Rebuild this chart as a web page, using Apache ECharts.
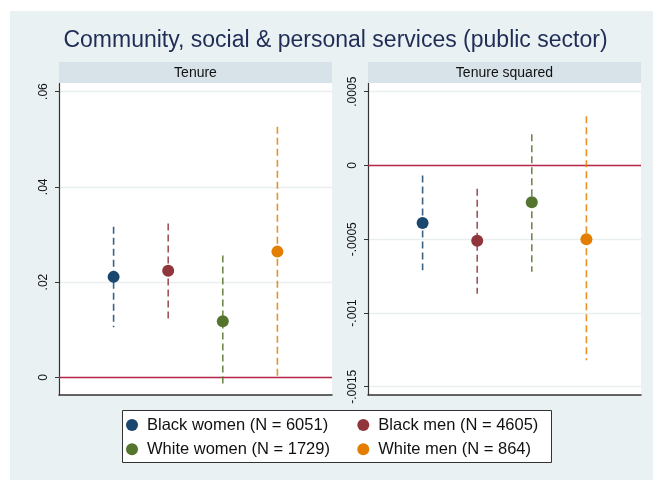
<!DOCTYPE html>
<html>
<head>
<meta charset="utf-8">
<script src="https://cdn.jsdelivr.net/npm/echarts@6/dist/echarts.min.js"></script>
<style>
html,body{margin:0;padding:0;background:#ffffff;}
#wrap{position:relative;width:653px;height:480px;}
#bg{position:absolute;left:10px;top:11px;width:643px;height:469px;background:#eaf1f3;}
#chart{position:absolute;left:0;top:0;width:653px;height:480px;}
</style>
</head>
<body>
<div id="wrap"><div id="bg"></div><div id="chart"></div></div>
<script>
// ---- data ----
const groups = ['Black women (N = 6051)', 'Black men (N = 4605)', 'White women (N = 1729)', 'White men (N = 864)'];
const groupX = [1, 2, 3, 4];
const tenureCoef = [0.0211, 0.0224, 0.0118, 0.0264];
const tenureLo   = [0.0105, 0.0123, -0.0020, 0.0003];
const tenureHi   = [0.0316, 0.0323, 0.0256, 0.0526];
const sqCoef = [-0.00039, -0.00051, -0.00025, -0.00050];
const sqLo   = [-0.00071, -0.00087, -0.00072, -0.00132];
const sqHi   = [-0.000068, -0.000158, 0.000212, 0.000334];
const tenureTicks = [0, 0.02, 0.04, 0.06];
const tenureTickLabels = ['0', '.02', '.04', '.06'];
const sqTicks = [-0.0015, -0.001, -0.0005, 0, 0.0005];
const sqTickLabels = ['-.0015', '-.001', '-.0005', '0', '.0005'];
const panelTitles = ['Tenure', 'Tenure squared'];
const chartTitle = 'Community, social & personal services (public sector)';

// ---- styles ----
const colors = ['#1a476f', '#90353b', '#55752f', '#e37e00'];
const FONT = '"Liberation Sans", Arial, Helvetica, sans-serif';

function labelFor(ticks, labels) {
  return function (v) {
    for (let i = 0; i < ticks.length; i++) {
      if (Math.abs(ticks[i] - v) < 1e-12) return labels[i];
    }
    return '';
  };
}

function yAxisCfg(gi, min, max, ticks, labels) {
  return {
    gridIndex: gi, type: 'value', min: min, max: max,
    axisLine: { show: true, lineStyle: { color: '#333', width: 1.2 } },
    axisTick: { show: true, length: 4, customValues: ticks, lineStyle: { color: '#333', width: 1 } },
    axisLabel: { customValues: ticks, rotate: 90, margin: 9, fontSize: 12, color: '#111', fontFamily: FONT,
      formatter: labelFor(ticks, labels) },
    splitLine: { show: true, lineStyle: { color: '#e9eff0', width: 1.3 } }
  };
}
function xAxisCfg(gi) {
  return {
    gridIndex: gi, type: 'value', min: 0, max: 5,
    axisLine: { show: true, onZero: false, lineStyle: { color: '#333', width: 1.5 } },
    axisTick: { show: false }, axisLabel: { show: false }, splitLine: { show: false }
  };
}

const series = [];
const panels = [
  { coef: tenureCoef, lo: tenureLo, hi: tenureHi },
  { coef: sqCoef, lo: sqLo, hi: sqHi }
];
panels.forEach(function (p, gi) {
  for (let i = 0; i < groups.length; i++) {
    series.push({
      name: 'ci' + gi + '_' + i, type: 'line', xAxisIndex: gi, yAxisIndex: gi,
      data: [[groupX[i], p.hi[i]], [groupX[i], p.lo[i]]],
      showSymbol: false, symbol: 'none', silent: true, z: 3,
      lineStyle: { color: colors[i], width: 1.6, type: [7, 4], opacity: 0.85 }
    });
  }
  for (let i = 0; i < groups.length; i++) {
    const s = {
      name: groups[i], type: 'scatter', xAxisIndex: gi, yAxisIndex: gi,
      data: [[groupX[i], p.coef[i]]], symbol: 'circle', symbolSize: 12, z: 5,
      itemStyle: { color: colors[i], opacity: 1 }
    };
    if (i === 0) {
      s.markLine = {
        silent: true, symbol: 'none', label: { show: false }, z: 2,
        data: [{ yAxis: 0 }],
        lineStyle: { color: '#b8264a', width: 1.3, type: 'solid' }
      };
    }
    series.push(s);
  }
});

const legendBase = {
  orient: 'vertical', padding: 0, itemWidth: 12, itemHeight: 12, itemGap: 6.3,
  icon: 'circle',
  textStyle: { fontSize: 16.5, color: '#111', fontFamily: FONT, lineHeight: 18, padding: [0, 0, 0, 4] },
  selectedMode: false
};

const option = {
  backgroundColor: 'transparent',
  animation: false,
  grid: [
    { left: 59, top: 83, right: 321, bottom: 85, show: true, backgroundColor: '#ffffff', borderWidth: 0 },
    { left: 368, top: 83, right: 12, bottom: 85, show: true, backgroundColor: '#ffffff', borderWidth: 0 }
  ],
  xAxis: [xAxisCfg(0), xAxisCfg(1)],
  yAxis: [
    yAxisCfg(0, -0.0037, 0.0618, tenureTicks, tenureTickLabels),
    yAxisCfg(1, -0.001556, 0.000559, sqTicks, sqTickLabels)
  ],
  legend: [
    Object.assign({}, legendBase, { left: 126, top: 416, data: [groups[0], groups[2]] }),
    Object.assign({}, legendBase, { left: 357.3, top: 416, data: [groups[1], groups[3]] })
  ],
  graphic: [
    { type: 'rect', shape: { x: 59, y: 62, width: 273, height: 21 }, style: { fill: '#d7e3e9' }, z: 1 },
    { type: 'rect', shape: { x: 368, y: 62, width: 273, height: 21 }, style: { fill: '#d7e3e9' }, z: 1 },
    { type: 'text', x: 195.5, y: 73, z: 2, style: { text: panelTitles[0], font: '14px ' + FONT, fill: '#111', align: 'center', verticalAlign: 'middle' } },
    { type: 'text', x: 504.5, y: 73, z: 2, style: { text: panelTitles[1], font: '14px ' + FONT, fill: '#111', align: 'center', verticalAlign: 'middle' } },
    { type: 'text', x: 335.5, y: 41, z: 2, style: { text: chartTitle, font: '23px ' + FONT, fill: '#1f2d56', align: 'center', verticalAlign: 'middle' } },
    { type: 'rect', shape: { x: 122.5, y: 410.5, width: 429, height: 52 }, style: { fill: '#ffffff', stroke: '#333', lineWidth: 1 }, z: 0 }
  ],
  series: series
};

const chart = echarts.init(document.getElementById('chart'), null, { renderer: 'canvas' });
chart.setOption(option);
</script>
</body>
</html>
